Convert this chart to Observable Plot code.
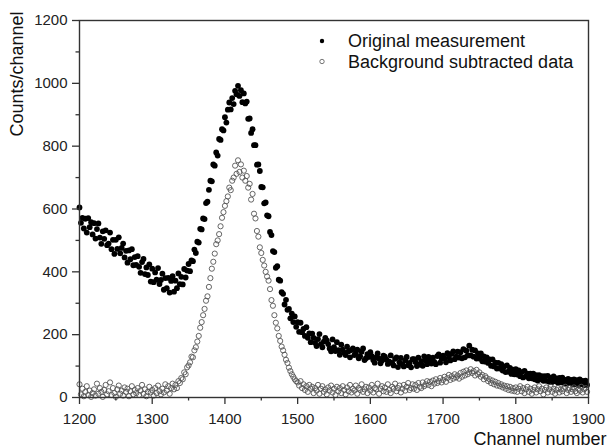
<!DOCTYPE html>
<html><head><meta charset="utf-8">
<script src="https://cdn.jsdelivr.net/npm/d3@7"></script>
<script src="https://cdn.jsdelivr.net/npm/@observablehq/plot@0.6"></script>
<style>
body{margin:0;background:#fff;font-family:"Liberation Sans",Arial,sans-serif;}
#wrap{position:relative;width:608px;height:448px;}
#overlay{position:absolute;left:0;top:0;pointer-events:none;}
</style></head><body><div id="wrap"></div>
<script>
// Channel grid (every 2nd channel)
const channels = d3.range(1200, 1900, 2);
// Original measurement (filled dots)
const original = [
605,556,572,538,569,525,571,542,558,519,
555,506,536,554,509,489,529,505,532,485,
490,525,472,502,457,502,473,510,459,476,
490,446,467,429,468,440,472,421,447,422,
450,416,397,431,441,393,414,390,424,369,
410,367,398,375,412,361,374,394,343,380,
348,381,334,371,386,337,372,348,395,361,
384,360,409,382,404,425,402,436,434,471,
460,496,493,537,535,570,568,619,623,661,
690,688,742,738,780,770,823,820,854,850,
892,875,916,939,917,953,934,976,965,992,
960,978,940,968,936,942,887,888,842,854,
803,803,741,742,721,670,669,618,621,580,
577,527,517,466,463,413,418,375,372,335,
330,296,311,279,282,252,267,240,258,225,
240,209,238,208,218,196,224,190,204,176,
203,190,174,164,186,202,170,160,178,190,
182,170,156,147,185,160,148,176,151,136,
168,152,143,135,162,147,128,151,156,135,
140,152,125,131,146,156,119,125,138,129,
144,132,119,111,128,140,124,109,118,133,
130,121,107,114,134,110,102,123,128,97,
112,126,106,99,118,129,103,110,96,122,
122,113,100,127,105,116,101,131,118,106,
129,118,108,127,113,106,132,137,111,124,
133,124,112,141,128,118,139,147,122,130,
146,127,144,125,154,128,149,134,165,134,
152,130,150,124,140,124,140,115,131,114,
128,110,121,101,121,99,111,92,110,92,
106,86,99,81,102,82,94,75,89,74,
90,73,86,68,81,64,85,67,76,61,
76,61,76,58,71,54,71,58,68,53,
68,53,69,50,62,49,67,52,61,47,
62,48,63,47,56,44,59,47,56,42,
58,43,55,40,58,43,53,39,54,40];
// Background subtracted data (open circles)
const subtracted = [
42,10,28,4,18,36,8,22,2,14,
26,6,44,12,30,18,2,24,40,10,
20,48,8,30,14,2,26,38,12,22,
6,32,18,28,4,20,36,10,24,14,
30,8,22,40,12,26,4,18,34,16,
24,6,30,14,38,20,10,28,16,42,
22,36,12,30,44,26,40,30,52,46,
62,58,80,74,96,102,112,130,128,150,
160,178,196,222,240,262,282,308,322,352,
380,410,432,458,488,500,520,545,572,590,
610,625,640,668,660,690,700,738,712,755,
718,742,700,722,690,705,668,680,630,648,
585,570,530,512,478,460,438,420,400,385,
372,345,310,292,262,238,220,196,180,162,
150,136,120,110,95,84,74,66,58,52,
48,38,52,30,42,24,36,18,40,28,
34,14,30,22,40,12,28,36,18,26,
10,32,22,38,16,28,8,34,20,30,
14,36,24,10,32,20,40,16,28,22,
38,12,30,24,42,18,26,34,14,32,
22,40,16,30,26,44,12,28,36,20,
32,18,42,24,14,34,28,44,20,30,
38,16,28,40,22,34,46,24,30,42,
28,40,24,46,34,30,48,36,42,52,
40,50,36,54,44,58,46,52,62,48,
56,66,50,62,72,56,68,60,74,64,
70,60,78,66,82,70,86,74,80,90,
78,84,70,88,74,80,66,72,58,68,
62,52,58,46,54,42,50,38,46,36,
42,32,38,28,36,24,34,22,30,20,
32,18,28,36,20,30,14,26,34,18,
28,12,24,32,16,26,36,20,28,10,
24,32,16,26,34,18,28,12,24,30,
16,26,20,28,34,14,24,30,18,26,
32,20,14,28,22,34,16,26,30,18];
const xMajorTicks = [1200,1300,1400,1500,1600,1700,1800,1900];
const xMinorTicks = [1250,1350,1450,1550,1650,1750,1850];
const yMajorTicks = [0,200,400,600,800,1000,1200];
const yMinorTicks = [100,300,500,700,900,1100];
const legendLabels = ["Original measurement", "Background subtracted data"];
const xLabel = "Channel number";
const yLabel = "Counts/channel";

const n = Math.min(channels.length, original.length, subtracted.length);
const origData = d3.range(n).map(i => ({ch: channels[i], v: original[i]}));
const subData = d3.range(n).map(i => ({ch: channels[i], v: subtracted[i]}));

const font = "Liberation Sans, Arial, sans-serif";
const chart = Plot.plot({
  width: 608, height: 448,
  marginLeft: 79, marginRight: 20, marginTop: 20, marginBottom: 51,
  style: {fontFamily: font, color: "#222", background: "#fff"},
  x: {domain: [1200, 1900]},
  y: {domain: [0, 1200]},
  marks: [
    Plot.dot(origData, {x: "ch", y: "v", r: 2.9, fill: "#000", stroke: "none"}),
    Plot.dot(subData, {x: "ch", y: "v", r: 2.6, fill: "none", stroke: "#555", strokeWidth: 0.9}),
    Plot.frame({stroke: "#333", strokeWidth: 1.4}),
    Plot.axisX({ticks: xMajorTicks, tickSize: 7, tickPadding: 9, fontSize: 15, label: null, stroke: "#333", strokeWidth: 1.3, tickFormat: d => String(d)}),
    Plot.axisX({ticks: xMinorTicks, tickSize: 3.5, text: null, label: null, stroke: "#333", strokeWidth: 1.3}),
    Plot.axisY({ticks: yMajorTicks, tickSize: 7, tickPadding: 5, fontSize: 15, label: null, stroke: "#333", strokeWidth: 1.3, tickFormat: d => String(d)}),
    Plot.axisY({ticks: yMinorTicks, tickSize: 3.5, text: null, label: null, stroke: "#333", strokeWidth: 1.3}),
    Plot.text([xLabel], {frameAnchor: "bottom-right", textAnchor: "end", dx: 18, dy: 47, fontSize: 18, fill: "#111"}),
    Plot.text([yLabel], {frameAnchor: "top-left", textAnchor: "end", rotate: -90, dx: -69, dy: -9, fontSize: 18, fill: "#111"})
  ]
});
document.getElementById("wrap").appendChild(chart);

// Legend overlay
const ov = d3.select("#wrap").append("svg").attr("id", "overlay")
  .attr("width", 608).attr("height", 448);
const lg = ov.selectAll("g").data(legendLabels).join("g")
  .attr("transform", (d, i) => `translate(322,${41 + i * 20.5})`);
lg.append("circle").attr("r", 2.2)
  .attr("fill", (d, i) => i === 0 ? "#000" : "none")
  .attr("stroke", (d, i) => i === 0 ? "none" : "#666")
  .attr("stroke-width", 0.9);
lg.append("text").attr("x", 26).attr("dy", "0.35em")
  .attr("font-family", font).attr("font-size", 18).attr("fill", "#111")
  .text(d => d);
</script></body></html>
